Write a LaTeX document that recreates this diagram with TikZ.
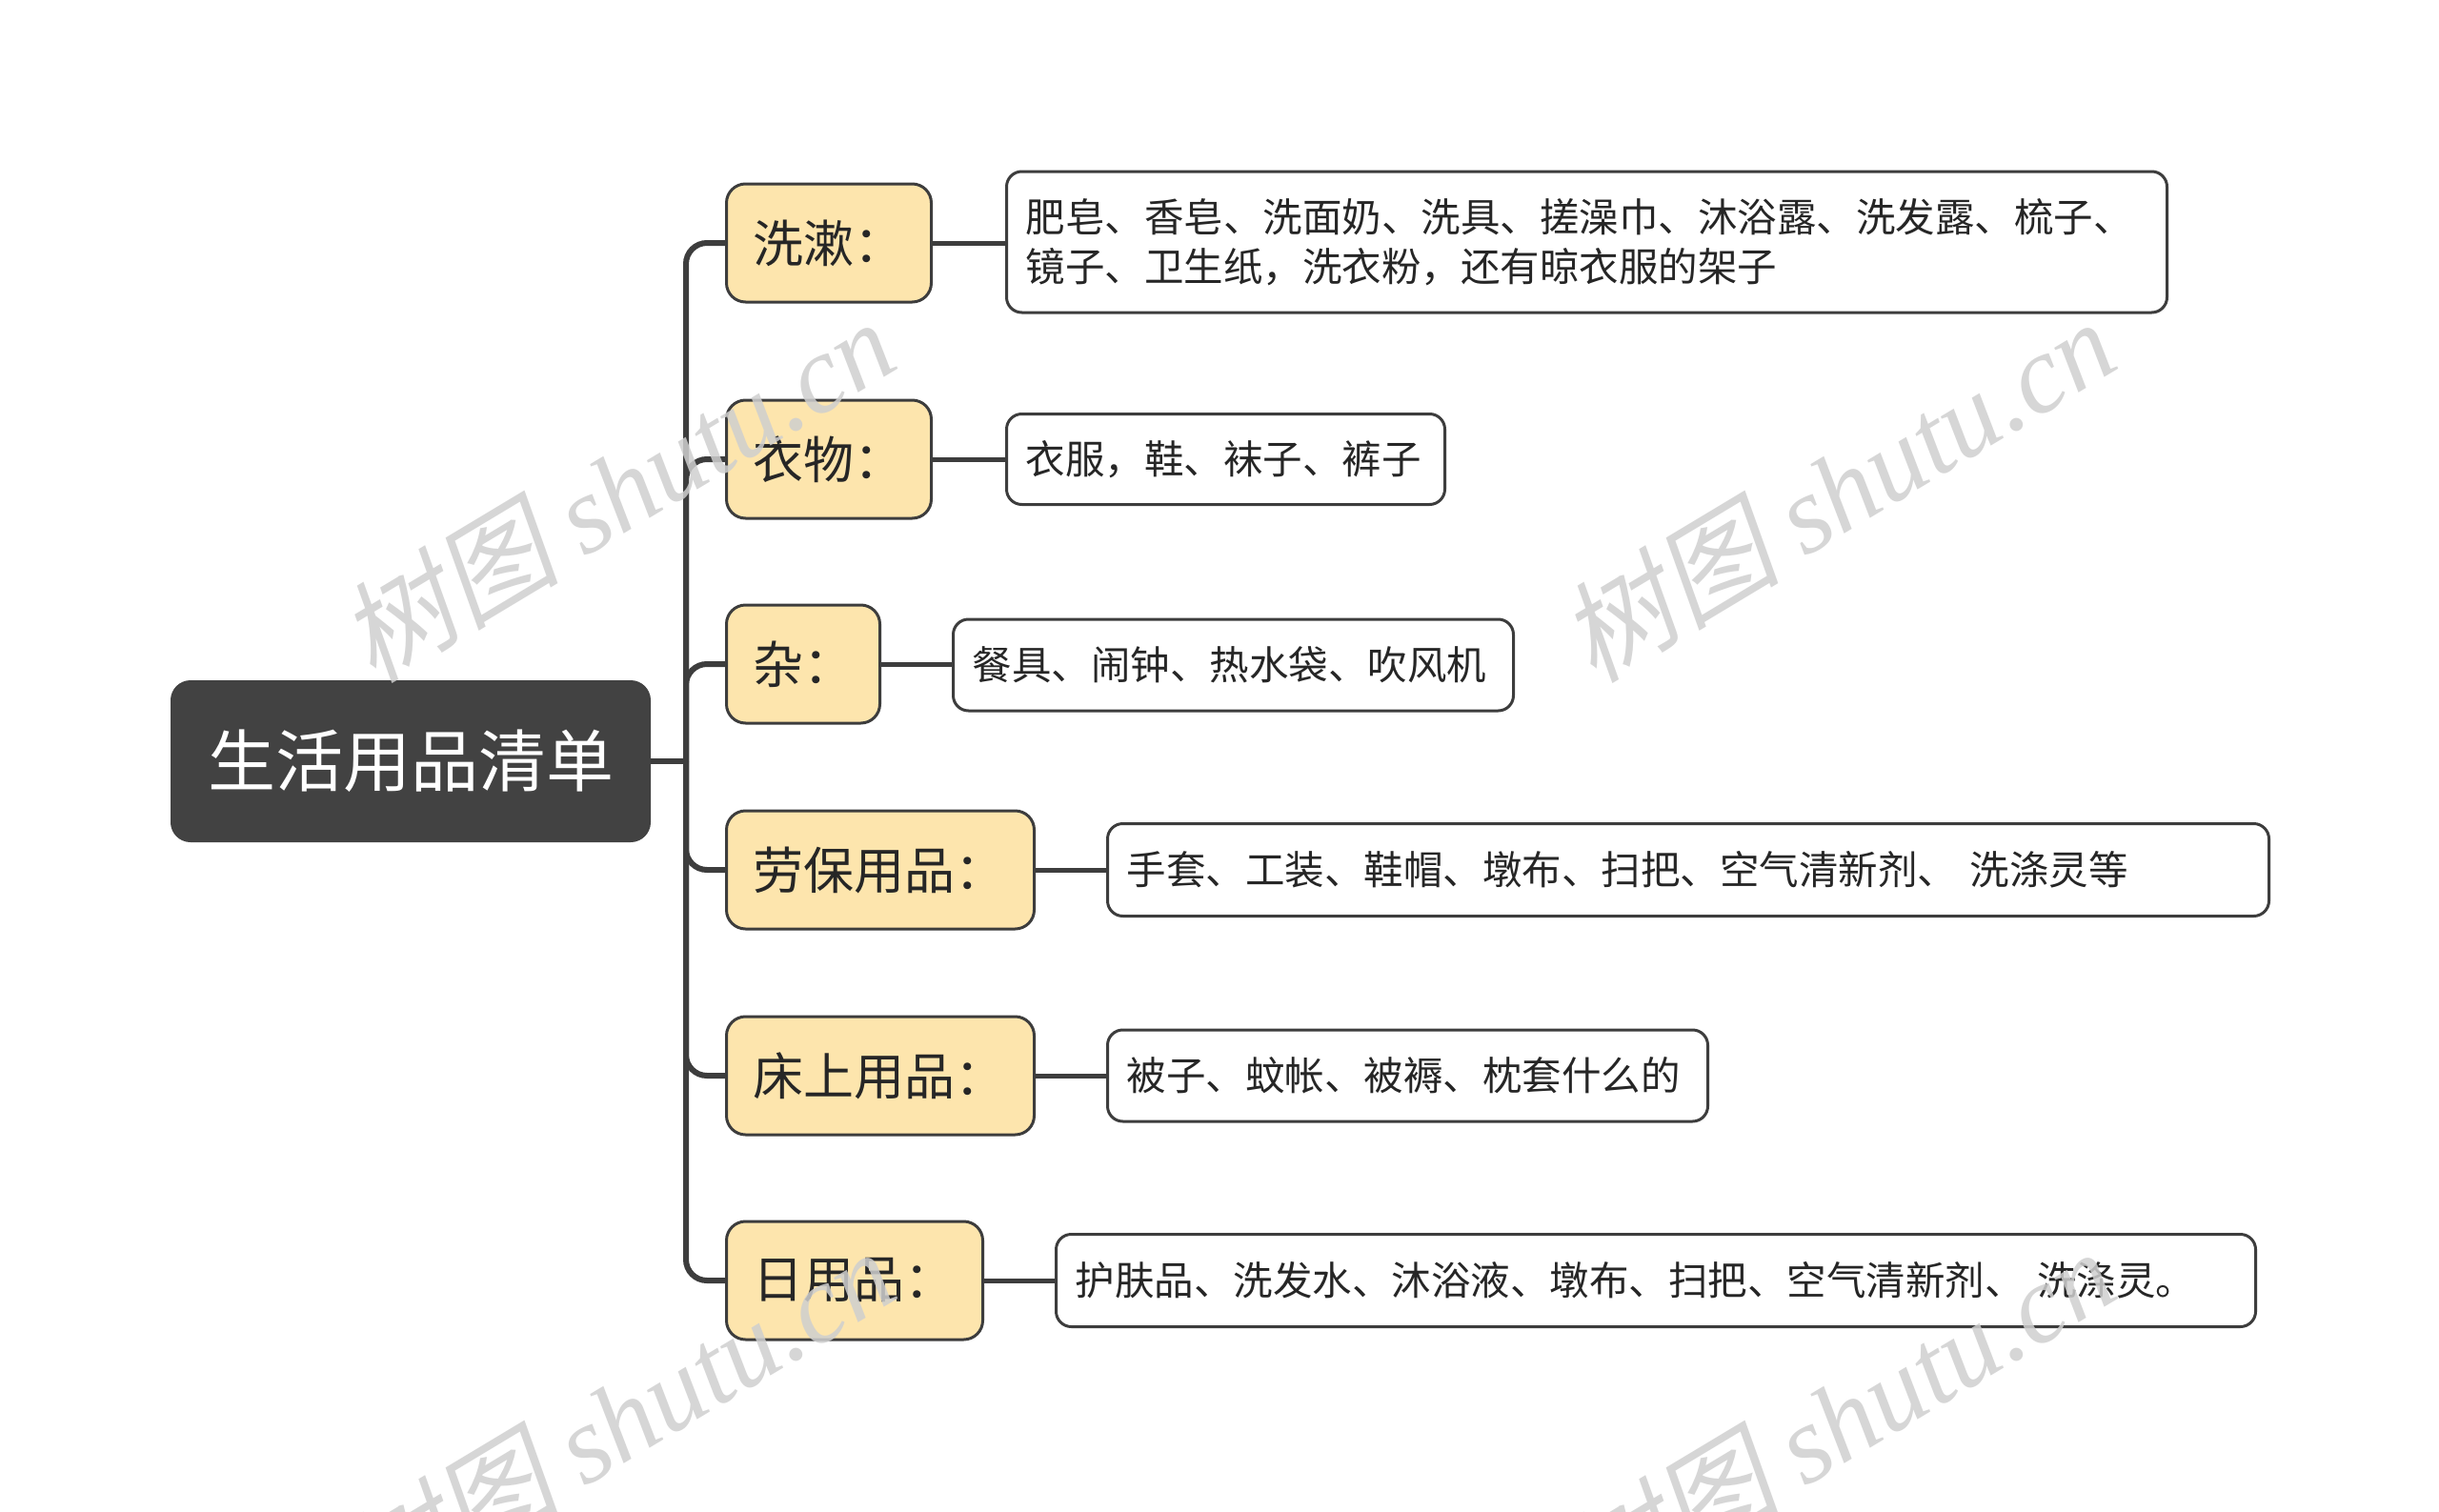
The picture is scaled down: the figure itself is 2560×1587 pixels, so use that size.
\documentclass[tikz,border=0pt]{standalone}
\usepackage{fontspec}
\setmainfont{Noto Sans CJK SC}
\newfontfamily\wmserif{Liberation Serif}
\newfontfamily\wmcjk[FakeSlant=0.2]{Noto Sans CJK SC}
\definecolor{linecol}{HTML}{3D3D3D}
\definecolor{rootfill}{HTML}{424242}
\definecolor{catfill}{HTML}{FDE5AD}
\definecolor{txtcol}{HTML}{262626}
\definecolor{wmcol}{HTML}{CFCFCF}
\tikzset{
  rootbox/.style={draw=rootfill, fill=rootfill, rounded corners=20pt, line width=2pt,
    minimum width=502pt, minimum height=168pt, inner sep=0pt, text=white,
    font=\fontsize{71}{80}\selectfont},
  catbox/.style={draw=linecol, fill=catfill, rounded corners=20pt, line width=3pt,
    minimum height=124pt, inner xsep=28pt, inner ysep=0pt, align=left, text=txtcol,
    font=\fontsize{53}{60}\selectfont, anchor=west},
  detbox/.style={draw=linecol, fill=white, rounded corners=16pt, line width=3pt,
    inner xsep=20pt, inner ysep=0pt, align=left, text=txtcol,
    font=\fontsize{41.5}{52}\selectfont, anchor=west},
  conn/.style={draw=linecol, line width=6pt},
  wm/.style={text=wmcol, opacity=0.85, rotate=31, font=\fontsize{116}{124}\selectfont}
}
\begin{document}
\begin{tikzpicture}[x=1pt,y=-1pt]
\useasboundingbox[fill=white] (0,0) rectangle (2560,1587);
% root
\node[rootbox] (root) at (431,799) {生活用品清单};
% categories
\node[catbox, text width=159pt] (c1) at (761,255) {洗漱：};
\node[catbox, text width=159pt] (c2) at (761,482) {衣物：};
\node[catbox, text width=105pt] (c3) at (761,697) {杂：};
\node[catbox, text width=267pt] (c4) at (761,913) {劳保用品：};
\node[catbox, text width=267pt] (c5) at (761,1129) {床上用品：};
\node[catbox, text width=213pt] (c6) at (761,1344) {日用品：};
% details
\node[detbox, text width=1178pt, minimum height=148pt] (d1) at (1055,254) {肥皂、香皂、洗面奶、洗具、搓澡巾、沐浴露、洗发露、梳子、\\镜子、卫生纸，洗衣粉，还有晾衣服的架子};
\node[detbox, text width=420pt, minimum height=95pt] (d2) at (1055,482) {衣服，鞋、袜子、裤子};
\node[detbox, text width=548pt, minimum height=96pt] (d3) at (999,698) {餐具、闹钟、热水袋、吹风机};
\node[detbox, text width=1179pt, minimum height=97pt] (d4) at (1161,913) {手套、工装、鞋帽、墩布、扫把、空气清新剂、\ 洗涤灵等};
\node[detbox, text width=590pt, minimum height=96pt] (d5) at (1161,1129) {被子、蚊帐、被褥、枕套什么的};
\node[detbox, text width=1219pt, minimum height=97pt] (d6) at (1107,1344) {护肤品、洗发水、沐浴液、墩布、扫把、空气清新剂、\ 洗涤灵。};
% connectors
\coordinate (tr) at (720,799);
\draw[conn] (root.east) -- (tr);
\foreach \c in {c1,c2,c3,c4,c5,c6}{
  \draw[conn, rounded corners=22pt] (tr) |- (\c.west);
}
\draw[conn, line width=5pt] (c1.east) -- (c1.east -| d1.west);
\draw[conn, line width=5pt] (c2.east) -- (c2.east -| d2.west);
\draw[conn, line width=5pt] (c3.east) -- (c3.east -| d3.west);
\draw[conn, line width=5pt] (c4.east) -- (c4.east -| d4.west);
\draw[conn, line width=5pt] (c5.east) -- (c5.east -| d5.west);
\draw[conn, line width=5pt] (c6.east) -- (c6.east -| d6.west);
% watermarks
\node[wm] (w1) at (647,514) {{\wmcjk 树图} {\wmserif\itshape shutu.cn}};
\node[wm] (w2) at (1928,514) {{\wmcjk 树图} {\wmserif\itshape shutu.cn}};
\node[wm] (w3) at (647,1490) {{\wmcjk 树图} {\wmserif\itshape shutu.cn}};
\node[wm] (w4) at (1928,1490) {{\wmcjk 树图} {\wmserif\itshape shutu.cn}};
\end{tikzpicture}
\end{document}
